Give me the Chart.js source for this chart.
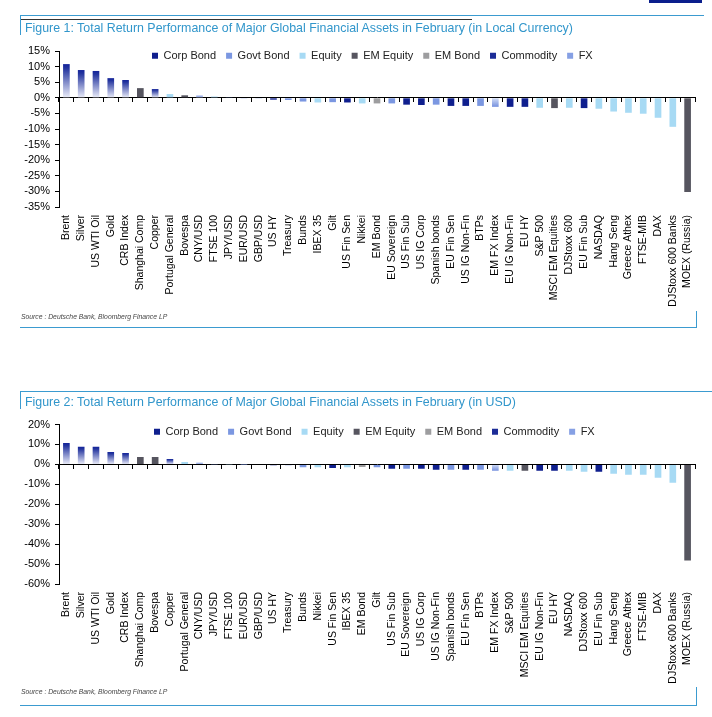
<!DOCTYPE html>
<html><head><meta charset="utf-8">
<script src="https://cdn.jsdelivr.net/npm/chart.js@4.4.1/dist/chart.umd.min.js"></script>
<style>
html,body{margin:0;padding:0;background:#fff;width:712px;height:717px;overflow:hidden;font-family:"Liberation Sans",Arial,sans-serif;}
.abs{position:absolute;}
.teal{position:absolute;background:#3b9bd0;}
.title{position:absolute;color:#3196cb;font-size:12.4px;white-space:nowrap;line-height:14px;}
.src{position:absolute;font-style:italic;font-size:6.8px;color:#444;white-space:nowrap;line-height:8px;}
.wrap{position:absolute;left:0;width:712px;}
</style></head><body>
<div class="wrap" style="top:0;height:318px"><canvas id="c1"></canvas></div>
<div class="wrap" style="top:385px;height:305px"><canvas id="c2"></canvas></div>

<div class="abs" style="left:649px;top:0;width:53px;height:3px;background:#0a1e8c"></div>
<div class="teal" style="left:20px;top:15px;width:684px;height:1px"></div>
<div class="abs" style="left:20px;top:19px;width:452px;height:1px;background:#333"></div>
<div class="teal" style="left:20px;top:15px;width:1px;height:20px"></div>
<div class="title" style="left:25px;top:21px">Figure 1: Total Return Performance of Major Global Financial Assets in February (in Local Currency)</div>
<div class="src" style="left:21px;top:313px">Source : Deutsche Bank, Bloomberg Finance LP</div>
<div class="teal" style="left:20px;top:327px;width:677px;height:1px"></div>
<div class="teal" style="left:696px;top:311px;width:1px;height:17px"></div>

<div class="teal" style="left:20px;top:391px;width:692px;height:1px"></div>
<div class="teal" style="left:20px;top:391px;width:1px;height:18px"></div>
<div class="title" style="left:25px;top:395px">Figure 2: Total Return Performance of Major Global Financial Assets in February (in USD)</div>
<div class="src" style="left:21px;top:688px">Source : Deutsche Bank, Bloomberg Finance LP</div>
<div class="teal" style="left:696px;top:687px;width:1px;height:19px"></div>
<div class="teal" style="left:20px;top:705px;width:677px;height:1px"></div>

<script>
const TYPES = ['Corp Bond','Govt Bond','Equity','EM Equity','EM Bond','Commodity','FX'];

// Figure 1 (local currency)
const categories1 = ['Brent','Silver','US WTI Oil','Gold','CRB Index','Shanghai Comp','Copper','Portugal General','Bovespa','CNY/USD','FTSE 100','JPY/USD','EUR/USD','GBP/USD','US HY','Treasury','Bunds','IBEX 35','Gilt','US Fin Sen','Nikkei','EM Bond','EU Sovereign','US Fin Sub','US IG Corp','Spanish bonds','EU Fin Sen','US IG Non-Fin','BTPs','EM FX Index','EU IG Non-Fin','EU HY','S&P 500','MSCI EM Equities','DJStoxx 600','EU Fin Sub','NASDAQ','Hang Seng','Greece Athex','FTSE-MIB','DAX','DJStoxx 600 Banks','MOEX (Russia)'];
const values1 = [10.8,8.9,8.6,6.3,5.7,3.1,2.8,1.2,0.8,0.7,0.4,0.1,-0.1,-0.1,-0.6,-0.7,-1.2,-1.5,-1.4,-1.5,-1.8,-1.8,-1.8,-2.2,-2.3,-2.2,-2.6,-2.6,-2.6,-2.9,-2.9,-2.9,-3.2,-3.3,-3.2,-3.3,-3.5,-4.4,-4.8,-5.1,-6.4,-9.3,-30.2];
const types1 = ['Commodity','Commodity','Commodity','Commodity','Commodity','EM Equity','Commodity','Equity','EM Equity','FX','Equity','FX','FX','FX','Corp Bond','Govt Bond','Govt Bond','Equity','Govt Bond','Corp Bond','Equity','EM Bond','Govt Bond','Corp Bond','Corp Bond','Govt Bond','Corp Bond','Corp Bond','Govt Bond','FX','Corp Bond','Corp Bond','Equity','EM Equity','Equity','Corp Bond','Equity','Equity','Equity','Equity','Equity','Equity','EM Equity'];
const yTicks1 = [-35,-30,-25,-20,-15,-10,-5,0,5,10,15];

// Figure 2 (USD)
const categories2 = ['Brent','Silver','US WTI Oil','Gold','CRB Index','Shanghai Comp','Bovespa','Copper','Portugal General','CNY/USD','JPY/USD','FTSE 100','EUR/USD','GBP/USD','US HY','Treasury','Bunds','Nikkei','US Fin Sen','IBEX 35','EM Bond','Gilt','US Fin Sub','EU Sovereign','US IG Corp','US IG Non-Fin','Spanish bonds','EU Fin Sen','BTPs','EM FX Index','S&P 500','MSCI EM Equities','EU IG Non-Fin','EU HY','NASDAQ','DJStoxx 600','EU Fin Sub','Hang Seng','Greece Athex','FTSE-MIB','DAX','DJStoxx 600 Banks','MOEX (Russia)'];
const values2 = [10.7,8.8,8.8,6.2,5.7,3.7,3.7,2.7,1.2,0.8,0.1,0.1,-0.1,-0.3,-0.5,-0.5,-1.4,-1.5,-1.8,-1.4,-1.3,-1.5,-2.2,-2.2,-2.2,-2.7,-2.7,-2.7,-2.7,-3.2,-3.2,-3.2,-3.2,-3.2,-3.2,-3.7,-3.7,-4.7,-5.2,-5.2,-6.7,-9.2,-48.2];
const types2 = ['Commodity','Commodity','Commodity','Commodity','Commodity','EM Equity','EM Equity','Commodity','Equity','FX','FX','Equity','FX','FX','Corp Bond','Govt Bond','Govt Bond','Equity','Corp Bond','Equity','EM Bond','Govt Bond','Corp Bond','Govt Bond','Corp Bond','Corp Bond','Govt Bond','Corp Bond','Govt Bond','FX','Equity','EM Equity','Corp Bond','Corp Bond','Equity','Equity','Corp Bond','Equity','Equity','Equity','Equity','Equity','EM Equity'];
const yTicks2 = [-60,-50,-40,-30,-20,-10,0,10,20];

const FONT = '"Liberation Sans", Arial, sans-serif';
const SOLID = {'Corp Bond':'#0f1f8e','Govt Bond':'#7b97e1','Equity':'#a7daf4','EM Equity':'#56555f','EM Bond':'#9d9d9f','Commodity':'#1c2c97','FX':'#86a0e4'};

function gradFill(stops) {
  return (ctx) => {
    const chart = ctx.chart, y = chart.scales && chart.scales.y;
    if (!y || ctx.type !== 'data' || ctx.raw == null) return stops[0][1];
    const y0 = y.getPixelForValue(0), y1 = y.getPixelForValue(ctx.raw);
    if (!isFinite(y0) || !isFinite(y1) || Math.abs(y0 - y1) < 0.5) return stops[0][1];
    const g = chart.ctx.createLinearGradient(0, y1, 0, y0);
    stops.forEach(s => g.addColorStop(s[0], s[1]));
    return g;
  };
}
const FILLS = Object.assign({}, SOLID, {
  'Commodity': gradFill([[0,'#13239a'],[0.12,'#23349e'],[1,'#eceef9']]),
  'FX': gradFill([[0,'#7590de'],[1,'#d6e0f7']])
});

function makeDatasets(values, types) {
  return TYPES.map(t => ({
    label: t,
    data: values.map((v, i) => types[i] === t ? v : null),
    backgroundColor: FILLS[t],
    borderWidth: 0,
    barPercentage: 0.45,
    categoryPercentage: 1
  }));
}

function legendPlace(x, dy) {
  return {
    id: 'legendPlace',
    afterLayout(chart) {
      const lg = chart.legend; if (!lg) return;
      const pad = lg.options.labels.padding;
      const sx = x - (lg.left + pad);
      const sy = (chart.chartArea.top + dy) - (lg.top + pad + 5.5);
      lg.left += sx; lg.right += sx; lg.top += sy; lg.bottom += sy;
    }
  };
}

function makeChart(id, cats, vals, types, ticks, legendX, legendDy, padTop, padBottom) {
  return new Chart(document.getElementById(id), {
    type: 'bar',
    data: { labels: cats, datasets: makeDatasets(vals, types) },
    options: {
      responsive: true, maintainAspectRatio: false, animation: false,
      layout: { padding: { top: padTop, bottom: padBottom, left: 0, right: 17 } },
      plugins: {
        tooltip: { enabled: false },
        legend: {
          display: true, position: 'top', align: 'start',
          labels: {
            boxWidth: 6, boxHeight: 6, padding: 10, color: '#222',
            font: { family: FONT, size: 11 },
            generateLabels: (chart) => chart.data.datasets.map((ds, i) => ({
              text: ds.label, fillStyle: SOLID[ds.label], strokeStyle: SOLID[ds.label],
              lineWidth: 0, hidden: false, datasetIndex: i, fontColor: '#222'
            }))
          }
        }
      },
      scales: {
        x: {
          stacked: true, offset: true,
          grid: { display: false, drawTicks: false },
          border: { display: false },
          ticks: { autoSkip: false, maxRotation: 90, minRotation: 90, padding: 8, color: '#000', font: { family: FONT, size: 10.5 } },
          afterFit: s => { s.height = 100; }
        },
        x2: {
          axis: 'x', type: 'category', position: { y: 0 }, offset: true, z: 2,
          grid: { offset: true, drawOnChartArea: false, drawTicks: true, tickLength: 4, color: '#000', lineWidth: 1 },
          border: { display: true, color: '#000', width: 1 },
          ticks: { display: false },
          afterFit: s => { s.height = 0; }
        },
        y: {
          stacked: true,
          min: ticks[0], max: ticks[ticks.length - 1],
          grid: { drawOnChartArea: false, drawTicks: true, tickLength: 4, color: '#000' },
          border: { display: true, color: '#000', width: 1 },
          ticks: { stepSize: ticks[1] - ticks[0], autoSkip: false, callback: v => v + '%', color: '#000', padding: 5, font: { family: FONT, size: 11 } },
          afterFit: s => { s.width = 59; }
        }
      }
    },
    plugins: [legendPlace(legendX, legendDy)]
  });
}

makeChart('c1', categories1, values1, types1, yTicks1, 152, 4.7, 20, 11);
makeChart('c2', categories2, values2, types2, yTicks2, 154, 7.2, 8.5, 6);
</script>
</body></html>
